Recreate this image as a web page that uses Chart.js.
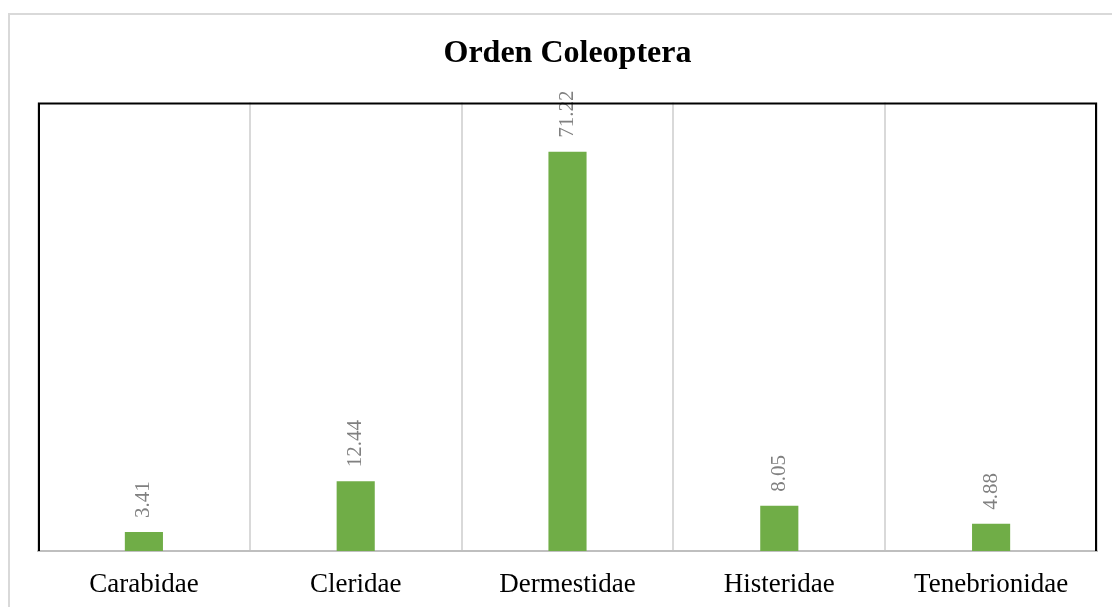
<!DOCTYPE html>
<html>
<head>
<meta charset="utf-8">
<title>Orden Coleoptera</title>
<script src="https://cdn.jsdelivr.net/npm/chart.js@4/dist/chart.umd.min.js"></script>
<style>
    html, body { margin: 0; padding: 0; background: #ffffff; overflow: hidden; }
    #wrap { position: relative; width: 1112px; height: 607px; overflow: hidden; }
    #frame {
        position: absolute; left: 8px; top: 13px;
        width: 1200px; height: 700px;
        border: 2px solid #d9d9d9; box-sizing: border-box;
    }
    #coleochart { position: absolute; left: 0; top: 0; }
</style>
</head>
<body>
<div id="wrap">
    <div id="frame"></div>
    <canvas id="coleochart" width="1112" height="607"></canvas>
</div>
<script>
const families = ["Carabidae", "Cleridae", "Dermestidae", "Histeridae", "Tenebrionidae"];
const percentages = [3.41, 12.44, 71.22, 8.05, 4.88];
const yMax = 80;

const coleoChart = document.getElementById("coleochart");

// black frame round the plot (left, top, right); bottom stays the grey axis line
const plotFrame = {
    id: "plotFrame",
    afterDraw(chart) {
        const { ctx, chartArea: a } = chart;
        ctx.save();
        ctx.strokeStyle = "#000000";
        ctx.lineWidth = 2;
        ctx.beginPath();
        ctx.moveTo(a.left + 1, a.bottom);
        ctx.lineTo(a.left + 1, a.top + 1);
        ctx.lineTo(a.right - 1, a.top + 1);
        ctx.lineTo(a.right - 1, a.bottom);
        ctx.stroke();
        ctx.restore();
    }
};

// rotated value labels above each bar
const barLabels = {
    id: "barLabels",
    afterDraw(chart) {
        const ctx = chart.ctx;
        const meta = chart.getDatasetMeta(0);
        ctx.save();
        ctx.fillStyle = "#808080";
        ctx.font = "21px 'Liberation Serif', 'Times New Roman', serif";
        ctx.textAlign = "left";
        ctx.textBaseline = "middle";
        meta.data.forEach(function(bar, i) {
            ctx.save();
            ctx.translate(bar.x, bar.y - 14);
            ctx.rotate(-Math.PI / 2);
            ctx.fillText(percentages[i].toFixed(2), 0, 0);
            ctx.restore();
        });
        ctx.restore();
    }
};

new Chart(coleoChart, {
    type: "bar",
    data: {
        labels: families,
        datasets: [{
            label: "Orden Coleoptera",
            data: percentages,
            backgroundColor: "#70ad47",
            borderWidth: 0,
            categoryPercentage: 1,
            barPercentage: 0.18
        }]
    },
    options: {
        responsive: false,
        animation: false,
        layout: {
            padding: { left: 38, right: 15, top: 0, bottom: 0 }
        },
        plugins: {
            legend: { display: false },
            tooltip: { enabled: false },
            title: {
                display: true,
                text: "Orden Coleoptera",
                color: "#000000",
                font: { family: "'Liberation Serif', 'Times New Roman', serif", size: 32, weight: "bold" },
                padding: { top: 35, bottom: 29 }
            }
        },
        scales: {
            x: {
                grid: {
                    color: "#d9d9d9",
                    lineWidth: 2,
                    drawTicks: false
                },
                border: { color: "#bfbfbf", width: 2 },
                ticks: {
                    color: "#000000",
                    padding: 18,
                    font: { family: "'Liberation Serif', 'Times New Roman', serif", size: 27 }
                },
                afterFit(scale) { scale.height = 56; }
            },
            y: {
                display: false,
                min: 0,
                max: yMax
            }
        }
    },
    plugins: [barLabels, plotFrame]
});
</script>
</body>
</html>
